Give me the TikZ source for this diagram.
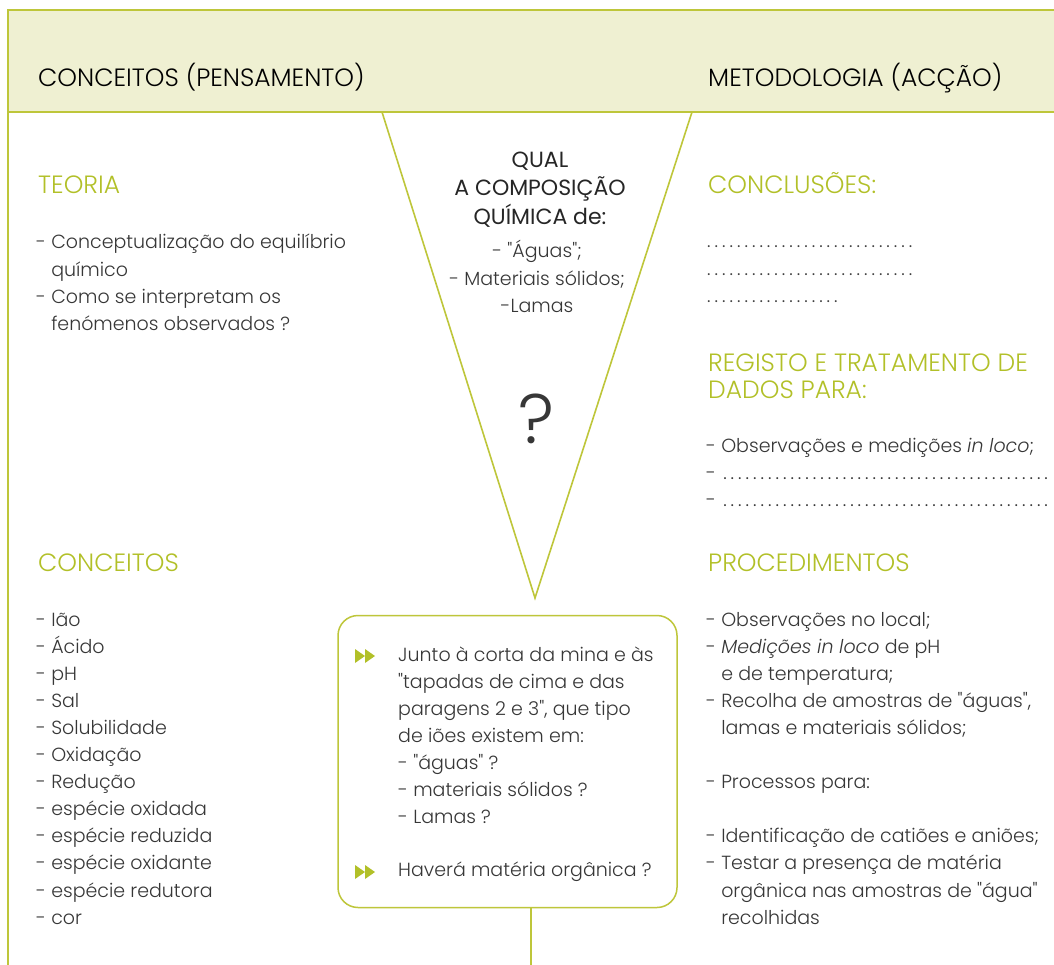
\documentclass[tikz,border=0pt]{standalone}
\usepackage{fontspec}
\newfontfamily\lightfont{Poppins}[UprightFont={* Light}, ItalicFont={* Light Italic}, BoldFont={*}]
\newfontfamily\bookfont{Poppins}
\definecolor{acc}{RGB}{190,198,58}
\definecolor{band}{RGB}{239,240,210}
\definecolor{txt}{RGB}{55,55,55}
\definecolor{ttl}{RGB}{178,192,40}
\newcount\dotcnt
\newcommand{\dotn}[1]{\dotcnt=0 \loop\hbox to 7.47pt{\hss.\hss}\advance\dotcnt by 1 \ifnum\dotcnt<#1\repeat}
\newcommand{\lft}[1]{\begin{tabular}[t]{@{}l@{}}#1\end{tabular}}
\newcommand{\ctr}[1]{\begin{tabular}[t]{@{}c@{}}#1\end{tabular}}
\newcommand{\qd}{\char34\relax}
\begin{document}
\begin{tikzpicture}[x=1pt,y=-1pt,
  body/.style={font=\lightfont\fontsize{19}{27.1}\selectfont, text=txt, anchor=base west, inner sep=0pt},
  head/.style={font=\lightfont\fontsize{25}{28}\selectfont, text=black, anchor=base west, inner sep=0pt},
  sect/.style={font=\lightfont\fontsize{25}{27}\selectfont, text=ttl, anchor=base west, inner sep=0pt},
  qtitle/.style={font=\bookfont\fontsize{22}{27.5}\selectfont, text=black!85, anchor=base, inner sep=0pt},
  qbody/.style={font=\lightfont\fontsize{19}{27.5}\selectfont, text=txt, anchor=base, inner sep=0pt},
  frame/.style={draw=acc, line width=1.6pt},
  marker/.style={fill=ttl, draw=none}]
\useasboundingbox (0,0) rectangle (1054,965);
\fill[white] (0,0) rectangle (1054,965);
% header band
\fill[band] (8,10) rectangle (1054,112);
\draw[frame, line width=2pt] (1054,10) -- (8,10) -- (8,965);
\draw[frame, line width=2pt] (8,112) -- (1054,112);
\node[head] (hl) at (38,87) {CONCEITOS (PENSAMENTO)};
\node[head] (hr) at (708,87) {METODOLOGIA (ACÇÃO)};
% V shape
\coordinate (tl) at (382,112);
\coordinate (tr) at (692,112);
\coordinate (apex) at (535,598);
\draw[frame] (tl) -- (apex) -- (tr);
\node[qtitle] (q1) at (540,168) {\ctr{QUAL\\A COMPOSIÇÃO\\QUÍMICA de:}};
\node[qbody] (q2) at (537,258) {\ctr{- \qd Águas\qd;\\- Materiais sólidos;\\-Lamas}};
\node[font=\lightfont\fontsize{70}{74}\selectfont, text=txt, anchor=base, inner sep=0pt] (qm) at (536,443) {?};
% left column
\node[sect] (teo) at (38,194) {TEORIA};
\node[body] (teol) at (36,249) {\lft{- Conceptualização do equilíbrio\\\hphantom{- }químico\\- Como se interpretam os\\\hphantom{- }fenómenos observados ?}};
\node[sect] (con) at (38,571) {CONCEITOS};
\node[body] (conl) at (36,626) {\lft{- Ião\\- Ácido\\- pH\\- Sal\\- Solubilidade\\- Oxidação\\- Redução\\- espécie oxidada\\- espécie reduzida\\- espécie oxidante\\- espécie redutora\\- cor}};
% right column
\node[sect] (concl) at (708,194) {CONCLUSÕES:};
\node[body, text=black!75] (dots) at (705,248) {\lft{\dotn{28}\\\dotn{28}\\\dotn{18}}};
\node[sect] (reg) at (708,371) {\lft{REGISTO E TRATAMENTO DE\\DADOS PARA:}};
\node[body] (regl) at (706,452) {\lft{- Observações e medições \textit{in loco};\\- \dotn{44}\\- \dotn{44}}};
\node[sect] (proc) at (708,571) {PROCEDIMENTOS};
\node[body] (procl) at (706,626) {\lft{- Observações no local;\\- \textit{Medições in loco} de pH\\\hphantom{- }e de temperatura;\\- Recolha de amostras de \qd águas\qd,\\\hphantom{- }lamas e materiais sólidos;\\~\\- Processos para:\\~\\- Identificação de catiões e aniões;\\- Testar a presença de matéria\\\hphantom{- }orgânica nas amostras de \qd água\qd\\\hphantom{- }recolhidas}};
% question box
\node[draw=acc, line width=1.5pt, rounded corners=20pt, minimum width=339pt, minimum height=292pt, inner sep=0pt] (box) at (507.5,761.5) {};
\coordinate (bot) at (531,965);
\draw[frame, line width=1.5pt] (box.south -| bot) -- (bot);
\node[body] (boxt) at (398,661) {\lft{Junto à corta da mina e às\\\qd tapadas de cima e das\\paragens 2 e 3\qd, que tipo\\de iões existem em:\\- \qd águas\qd\ ?\\- materiais sólidos ?\\- Lamas ?}};
\node[body] (boxt2) at (398,876) {Haverá matéria orgânica ?};
\fill[marker] (355,649) -- (365,656) -- (355,663) -- cycle;
\fill[marker] (365,649) -- (375,656) -- (365,663) -- cycle;
\fill[marker] (355,865) -- (365,872) -- (355,879) -- cycle;
\fill[marker] (365,865) -- (375,872) -- (365,879) -- cycle;
\end{tikzpicture}
\end{document}
